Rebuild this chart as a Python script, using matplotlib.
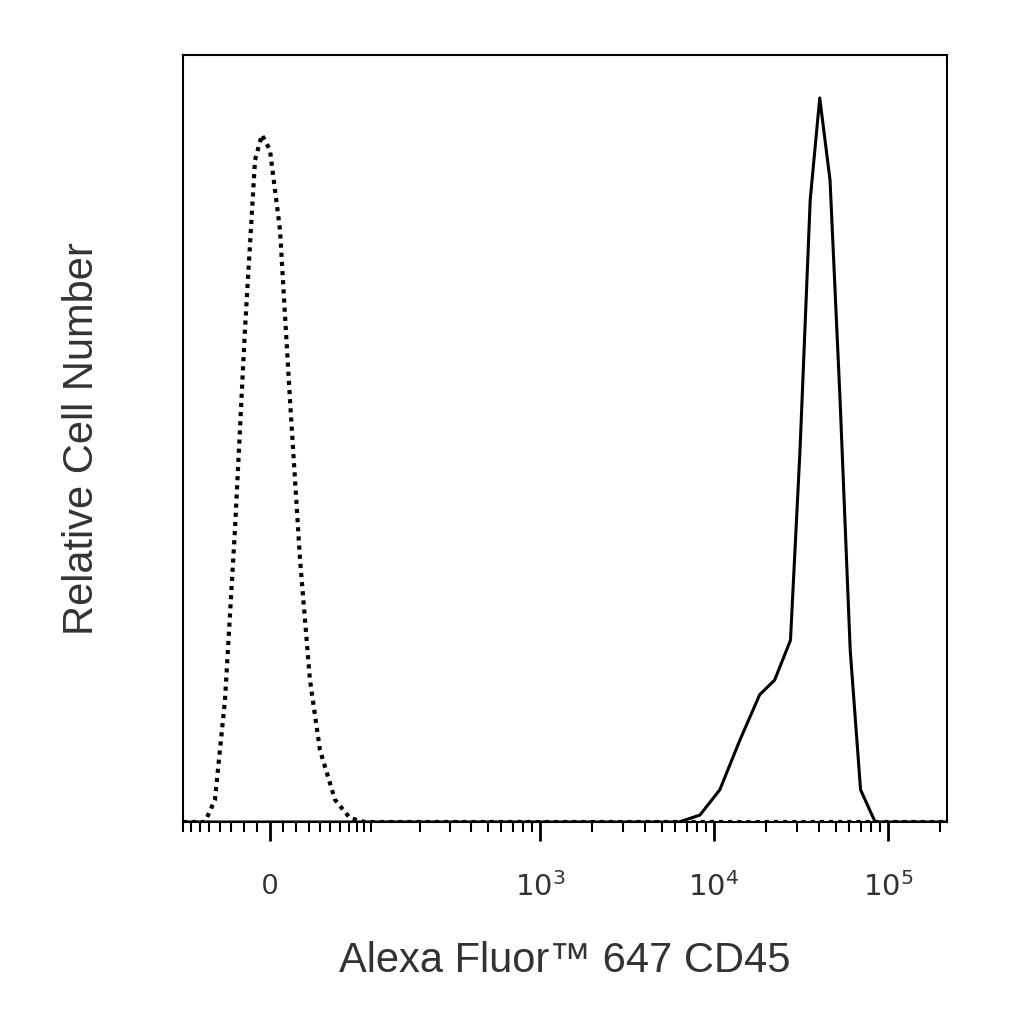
import numpy as np
import matplotlib
matplotlib.use("Agg")
import matplotlib.pyplot as plt

plt.rcParams['font.family'] = ['Liberation Sans', 'DejaVu Sans']

# isotype (dotted) histogram: intensity, relative count
iso_x = [-80, -54.6, -44.7, -35.5, -27.0, -19.0, -11.2, -6.0, 0, 7.5, 15.1, 23.0, 31.2, 40.0, 54.6, 71.4, 90.8, 218000]
iso_y = [0, 0, 2.9, 15.9, 38.1, 64.1, 86.3, 89.6, 87.6, 77.2, 55.0, 34.2, 18.5, 9.4, 2.9, 0.5, 0, 0]
# CD45 stained (solid)
cd_x = [-80, 6300, 8300, 10800, 14100, 18300, 22300, 27500, 31200, 35700, 40500, 46400, 53000, 60600, 69500, 84300, 218000]
cd_y = [0, 0, 0.9, 4.2, 10.7, 16.6, 18.5, 23.7, 48.5, 81.1, 94.4, 83.7, 55.0, 22.4, 4.2, 0, 0]

W = 56.3
fwd = lambda v: np.arcsinh(np.asarray(v, float) / W)
inv = lambda u: W * np.sinh(np.asarray(u, float))

fig = plt.figure(figsize=(10.24, 10.24), dpi=100)
ax = fig.add_axes([183/1024, 1-822/1024, (947-183)/1024, (822-55)/1024])
ax.set_xscale('function', functions=(fwd, inv))
ax.plot(iso_x, iso_y, color='black', lw=3, linestyle=(0, (1, 1.2)))
ax.plot(cd_x, cd_y, color='black', lw=2.2)
ax.set_xlim(-80, 218000)
ax.set_ylim(0, 100)
ax.set_yticks([])

major = [0, 1e3, 1e4, 1e5]
ax.set_xticks(major)
ax.set_xticklabels(['0', r'$10^3$', r'$10^4$', r'$10^5$'], fontsize=21, color='#333333')
minor = list(range(-80, 100, 10)) + list(range(100, 1000, 100)) + \
        [m * 10**k for k in (3, 4, 5) for m in range(2, 10) if m * 10**k < 218000]
ax.set_xticks(minor, minor=True)
ax.tick_params(axis='x', which='major', length=14, width=2, pad=22)
ax.tick_params(axis='x', which='minor', length=7, width=1.5)
for s in ax.spines.values():
    s.set_linewidth(1.5)
ax.set_xlabel('Alexa Fluor™ 647 CD45', fontsize=30, labelpad=28, color='#333333')
ax.set_ylabel('Relative Cell Number', fontsize=30, labelpad=58, color='#333333')
fig.savefig('out.png', dpi=100)
